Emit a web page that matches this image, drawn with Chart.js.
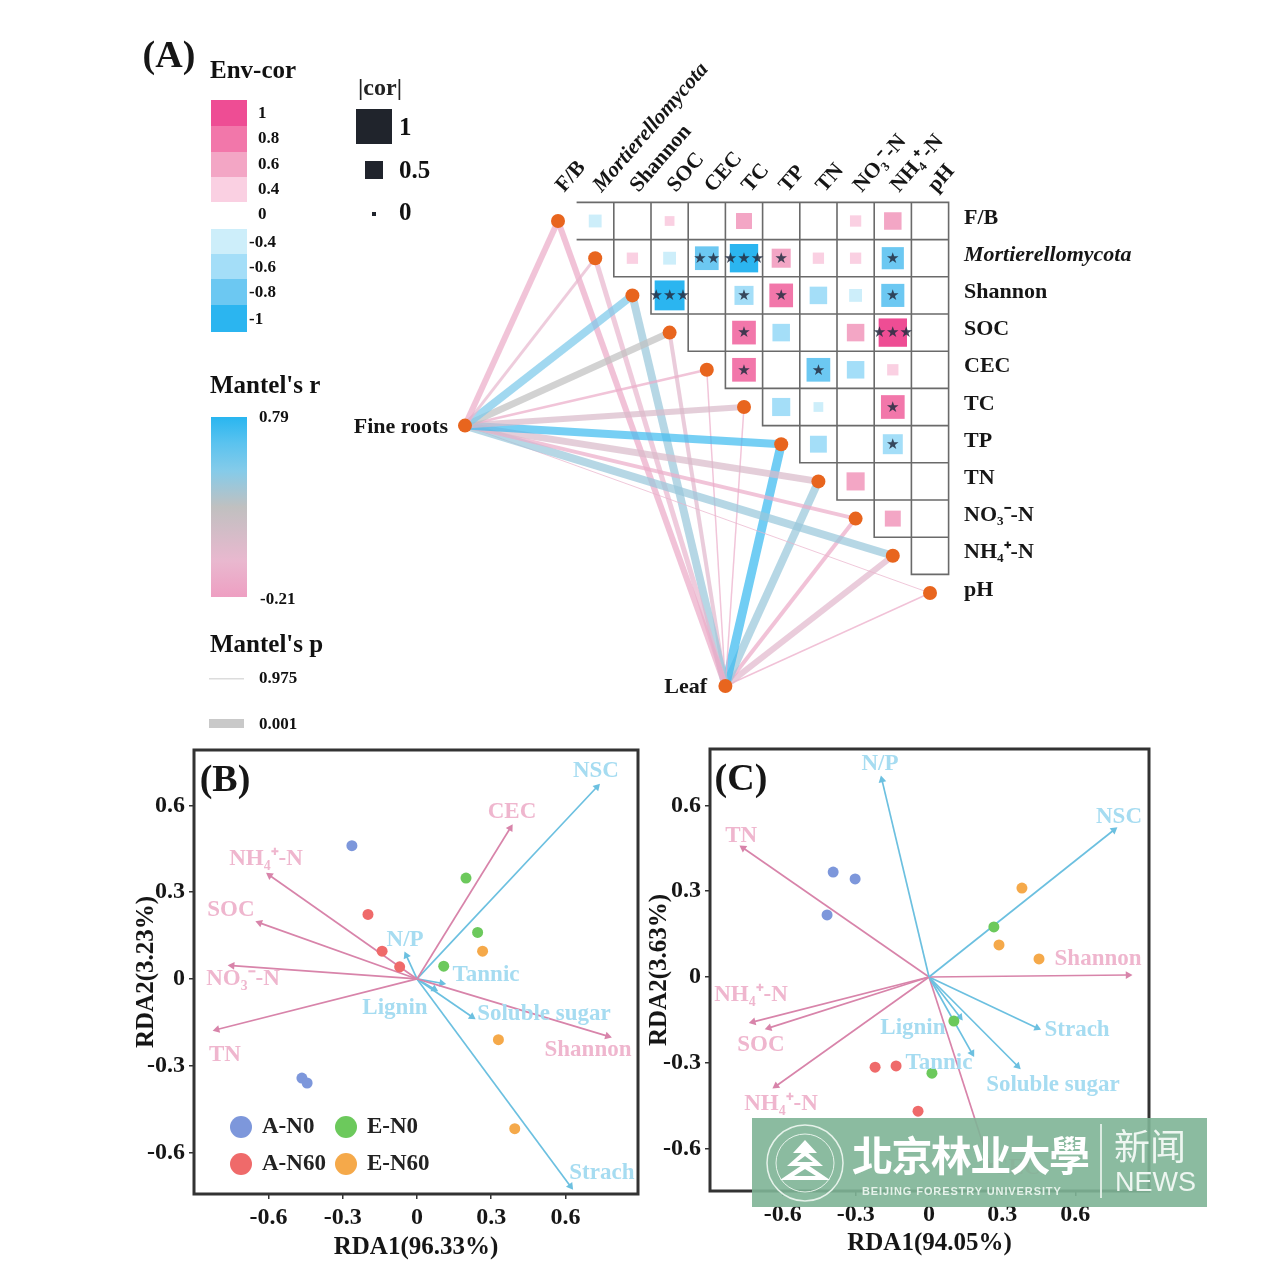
<!DOCTYPE html>
<html>
<head>
<meta charset="utf-8">
<script src="https://cdn.jsdelivr.net/npm/chart.js@4"></script>
<style>
html,body{margin:0;padding:0;background:#fff;width:1280px;height:1280px;overflow:hidden}
canvas{position:absolute;filter:blur(.5px)}
#mark{position:absolute;left:752px;top:1118px;width:455px;height:89px;background:rgba(126,180,150,.9);color:#fff;overflow:hidden;filter:blur(.5px)}
#mark div{position:absolute;white-space:nowrap}
</style>
</head>
<body>
<canvas id="panelA" width="1280" height="740" style="left:0;top:0"></canvas>
<canvas id="panelB" width="560" height="540" style="left:100px;top:730px"></canvas>
<canvas id="panelC" width="560" height="540" style="left:615px;top:730px"></canvas>
<div id="mark">
  <svg width="90" height="89" style="position:absolute;left:8px;top:0" viewBox="0 0 90 89">
    <circle cx="45" cy="45" r="38" fill="none" stroke="#e6f2ea" stroke-width="1.5"/>
    <circle cx="45" cy="45" r="29" fill="none" stroke="#e6f2ea" stroke-width="1"/>
    <path d="M45 22 L57 35 L33 35 Z M45 32 L63 48 L27 48 Z M45 45 L70 62 L20 62 Z" fill="#fff"/>
    <path d="M45 38 L53 44 L37 44 Z M45 51 L56 58 L34 58 Z" fill="#8abba1"/>
  </svg>
  <div style="left:100px;top:5px;font:700 41px 'Noto Sans CJK TC';letter-spacing:-1.6px">北京林业大學</div>
  <div style="left:110px;top:67px;font:700 11px 'Liberation Sans';letter-spacing:.9px;color:#e6f2ea">BEIJING FORESTRY UNIVERSITY</div>
  <div style="left:348px;top:6px;width:2px;height:74px;background:#dcebe2"></div>
  <div style="left:362px;top:5px;font:400 36px 'Noto Sans CJK SC';line-height:42px;color:#eef6f1">新闻</div>
  <div style="left:363px;top:46px;font:400 27px 'Liberation Sans';line-height:36px;color:#eef6f1">NEWS</div>
</div>
<script>
// ---------- Panel A data ----------
const envNames = ['F/B','Mortierellomycota','Shannon','SOC','CEC','TC','TP','TN','NO₃⁻-N','NH₄⁺-N','pH'];
const corFB      = [null,-0.35,null,0.25,null,0.45,null,null,0.30,0.50,null];
const corMort    = [null,null,0.30,-0.35,-0.70,-0.85,0.55,0.30,0.30,-0.65,null];
const corShannon = [null,null,null,-0.90,null,-0.55,0.70,-0.50,-0.35,-0.68,null];
const corSOC     = [null,null,null,null,null,0.70,-0.50,null,0.50,0.85,null];
const corCEC     = [null,null,null,null,null,0.70,null,-0.70,-0.50,0.30,null];
const corTC      = [null,null,null,null,null,null,-0.52,-0.25,null,0.70,null];
const corTP      = [null,null,null,null,null,null,null,-0.48,null,-0.58,null];
const corTN      = [null,null,null,null,null,null,null,null,0.52,null,null];
const corNO3     = [null,null,null,null,null,null,null,null,null,0.45,null];
const corNH4     = [null,null,null,null,null,null,null,null,null,null,null];
const sigFB      = [0,0,0,0,0,0,0,0,0,0,0];
const sigMort    = [0,0,0,0,2,3,1,0,0,1,0];
const sigShannon = [0,0,0,3,0,1,1,0,0,1,0];
const sigSOC     = [0,0,0,0,0,1,0,0,0,3,0];
const sigCEC     = [0,0,0,0,0,1,0,1,0,0,0];
const sigTC      = [0,0,0,0,0,0,0,0,0,1,0];
const sigTP      = [0,0,0,0,0,0,0,0,0,1,0];
const corRows = [corFB,corMort,corShannon,corSOC,corCEC,corTC,corTP,corTN,corNO3,corNH4];
const sigRows = [sigFB,sigMort,sigShannon,sigSOC,sigCEC,sigTC,sigTP];
const rootsR = [-0.10,0.00,0.52,0.28,-0.10,0.10,0.72,0.10,-0.10,0.42,-0.05];
const rootsP = [0.43,0.76,0.22,0.325,0.81,0.43,0.22,0.325,0.65,0.22,0.975];
const leafR  = [-0.12,-0.02,0.42,0.04,-0.08,-0.08,0.74,0.42,-0.12,0.04,-0.12];
const leafP  = [0.43,0.54,0.22,0.65,0.92,0.92,0.11,0.22,0.65,0.43,0.92];
const envLegendLabels = ['1','0.8','0.6','0.4','0','-0.4','-0.6','-0.8','-1'];

// ---------- Panel B data ----------
const tickValues = [-0.6,-0.3,0,0.3,0.6];
const groupNames = ['A-N0','A-N60','E-N0','E-N60'];
const bGroupAN0x  = [-0.263,-0.465,-0.444], bGroupAN0y  = [0.461,-0.343,-0.360];
const bGroupAN60x = [-0.198,-0.141,-0.070], bGroupAN60y = [0.223,0.096,0.042];
const bGroupEN0x  = [0.198,0.245,0.108],    bGroupEN0y  = [0.349,0.161,0.044];
const bGroupEN60x = [0.265,0.329,0.395],    bGroupEN60y = [0.096,-0.210,-0.518];
const bArrowNames = ['CEC','NSC','NH₄⁺-N','SOC','NO₃⁻-N','TN','Shannon','Strach','Soluble sugar','N/P','Tannic','Lignin'];
const bArrowKind  = ['p','b','p','p','p','p','p','b','b','b','b','b'];
const bArrowX = [0.377,0.727,-0.595,-0.636,-0.747,-0.808,0.770,0.620,0.222,-0.043,0.100,0.070];
const bArrowY = [0.522,0.664,0.358,0.194,0.046,-0.175,-0.198,-0.717,-0.131,0.081,-0.015,-0.035];
const bLabelX = [0.384,0.723,-0.610,-0.752,-0.703,-0.776,0.691,0.747,0.513,-0.048,0.279,-0.089];
const bLabelY = [0.578,0.720,0.415,0.239,0.000,-0.263,-0.246,-0.671,-0.121,0.135,0.014,-0.100];

// ---------- Panel C data ----------
const cGroupAN0x  = [-0.393,-0.303,-0.418], cGroupAN0y  = [0.367,0.343,0.217];
const cGroupAN60x = [-0.221,-0.135,-0.045], cGroupAN60y = [-0.315,-0.311,-0.469];
const cGroupEN0x  = [0.266,0.102,0.012],    cGroupEN0y  = [0.175,-0.154,-0.336];
const cGroupEN60x = [0.381,0.287,0.451],    cGroupEN60y = [0.311,0.112,0.063];
const cArrowNames = ['N/P','NSC','TN','Shannon','NH₄⁺-N','SOC','NH₄⁺-N','Strach','Soluble sugar','Lignin','Tannic','CEC'];
const cArrowKind  = ['b','b','p','p','p','p','p','b','b','b','b','p'];
const cArrowX = [-0.193,0.758,-0.762,0.816,-0.721,-0.656,-0.627,0.443,0.363,0.127,0.176,0.250];
const cArrowY = [0.689,0.514,0.451,0.007,-0.157,-0.178,-0.381,-0.178,-0.311,-0.140,-0.266,-0.660];
const cLabelX = [-0.201,0.779,-0.770,0.693,-0.730,-0.689,-0.607,0.607,0.508,-0.066,0.041,0.357];
const cLabelY = [0.745,0.559,0.493,0.063,-0.063,-0.238,-0.444,-0.185,-0.378,-0.178,-0.301,-0.668];

// ---------- Styles ----------
const SERIF = "'Liberation Serif'";
Chart.defaults.font.family = SERIF;
Chart.defaults.animation = false;
const envBins = ['#ee4d94','#f277aa','#f3a6c5','#fad0e2','#ffffff','#cdeefa','#a4def8','#6cc8f2','#2bb5f0'];
const groupColors = ['#7d97db','#ef6a6a','#6cc95c','#f5a94a'];
const arrowColor = {p:'#d884aa', b:'#6cc0e0'};
const labelColor = {p:'#efb6ce', b:'#a6dcf1'};
const mantelStops = [[0,[238,159,194]],[0.2,[233,184,207]],[0.5,[192,192,192]],[0.7,[133,203,233]],[0.85,[92,195,239]],[1,[41,182,240]]];

function rgbOf(stops,f){
  for(let k=1;k<stops.length;k++){
    if(f<=stops[k][0]){
      const a=stops[k-1],b=stops[k],u=(f-a[0])/(b[0]-a[0]);
      return a[1].map((c,n)=>Math.round(c+(b[1][n]-c)*u));
    }
  }
  return stops[stops.length-1][1];
}
function mantelColor(r){
  const c=rgbOf(mantelStops,Math.max(0,Math.min(1,(r+0.21)/1.0)));
  return `rgba(${c[0]},${c[1]},${c[2]},0.72)`;
}
function mantelWidth(p){ return 1+9*(1-p/0.975); }
function corColor(v){
  const a=Math.abs(v);
  const bin=a>=0.8?0:a>=0.6?1:a>=0.4?2:3;
  return v>0?envBins[bin]:envBins[8-bin];
}
function corSide(v){ return 2+31*Math.abs(v); }
function txt(ctx,s,x,y,font,color,align,base,rot){
  ctx.save();
  ctx.font=font; ctx.fillStyle=color||'#111';
  ctx.textAlign=align||'left'; ctx.textBaseline=base||'middle';
  ctx.translate(x,y); if(rot) ctx.rotate(rot);
  ctx.fillText(s,0,0);
  ctx.restore();
}

// ---------- Panel A ----------
const PX_STEP=37.2, ORIGIN_X=558, ORIGIN_Y=221;
const rootsNode={x:-2.5,y:5.5}, leafNode={x:4.5,y:12.5};
const datasetsA=[];
function mantelSet(src,rs,ps){
  envNames.forEach((n,i)=>{
    datasetsA.push({label:n,data:[src,{x:i,y:i}],showLine:true,pointRadius:0,
      borderColor:mantelColor(rs[i]),borderWidth:mantelWidth(ps[i]),order:5});
  });
}
mantelSet(rootsNode,rootsR,rootsP);
mantelSet(leafNode,leafR,leafP);
const corPoints=[];
corRows.forEach((row,i)=>row.forEach((v,j)=>{ if(v!==null) corPoints.push({x:j,y:i,v}); }));
datasetsA.push({label:'cor',data:corPoints,pointStyle:'rect',pointBorderWidth:0,
  pointRadius:c=>c.raw?corSide(c.raw.v)/Math.SQRT2:0,
  pointBackgroundColor:c=>c.raw?corColor(c.raw.v):'#fff',order:2});
const nodePoints=envNames.map((n,i)=>({x:i,y:i})).concat([rootsNode,leafNode]);
datasetsA.push({label:'nodes',data:nodePoints,pointRadius:7,pointBorderWidth:0,pointBackgroundColor:'#e8651e',order:0});

const panelAText={id:'panelAText',
  beforeDatasetsDraw(ch){
    const c=ch.ctx,X=ch.scales.x,Y=ch.scales.y;
    c.save(); c.strokeStyle='#6a6a6a'; c.lineWidth=1.6; c.beginPath();
    for(let i=0;i<10;i++) for(let j=i+1;j<=10;j++){
      const l=X.getPixelForValue(j-.5),r=X.getPixelForValue(j+.5),t=Y.getPixelForValue(i-.5),b=Y.getPixelForValue(i+.5);
      c.moveTo(l,t);c.lineTo(r,t);c.lineTo(r,b);c.lineTo(l,b);
      if(!(i===0&&j===1)) c.lineTo(l,t);
    }
    c.stroke(); c.restore();
  },
  afterDatasetsDraw(ch){
    const c=ch.ctx,X=ch.scales.x,Y=ch.scales.y;
    // significance
    sigRows.forEach((row,i)=>row.forEach((n,j)=>{
      if(n>0) txt(c,'★'.repeat(n),X.getPixelForValue(j),Y.getPixelForValue(i)+1,"15px 'DejaVu Sans'",'rgba(35,45,65,.85)','center');
    }));
    // axis names
    envNames.forEach((n,i)=>{
      const f=(n==='Mortierellomycota'?'italic ':'')+'bold 21.5px '+SERIF;
      txt(c,n,X.getPixelForValue(i)+2,Y.getPixelForValue(-0.85),f,'#161616','left','middle',-49*Math.PI/180);
      txt(c,n,964,Y.getPixelForValue(i)-3,(n==='Mortierellomycota'?'italic ':'')+'bold 22px '+SERIF,'#161616');
    });
    txt(c,'Fine roots',448,427,'bold 22px '+SERIF,'#161616','right');
    txt(c,'Leaf',707,687,'bold 22px '+SERIF,'#161616','right');
    // panel letter
    txt(c,'(A)',169,57,'bold 38px '+SERIF,'#161616','center');
    // Env-cor legend
    txt(c,'Env-cor',210,72,'bold 25px '+SERIF);
    const binEdges=[100,126,152,177,202,229,254,279,305,332];
    envBins.forEach((col,k)=>{ c.fillStyle=col; c.fillRect(211,binEdges[k],36,binEdges[k+1]-binEdges[k]); });
    const labelYs=[114,139,165,190,215,243,268,293,320];
    envLegendLabels.forEach((s,k)=>txt(c,s,s[0]==='-'?249:258,labelYs[k],'bold 17px '+SERIF));
    // |cor| legend
    txt(c,'|cor|',380,89,'bold 24px '+SERIF,'#222','center');
    c.fillStyle='#20242c';
    c.fillRect(356,109,36,35); c.fillRect(365,161,18,18); c.fillRect(372,212,4,4);
    txt(c,'1',399,129,'bold 25px '+SERIF);
    txt(c,'0.5',399,172,'bold 25px '+SERIF);
    txt(c,'0',399,214,'bold 25px '+SERIF);
    // Mantel's r legend
    txt(c,"Mantel's r",210,387,'bold 25px '+SERIF);
    const g=c.createLinearGradient(0,597,0,417);
    mantelStops.forEach(s=>g.addColorStop(s[0],`rgb(${s[1].join(',')})`));
    c.fillStyle=g; c.fillRect(211,417,36,180);
    txt(c,'0.79',259,418,'bold 17px '+SERIF);
    txt(c,'-0.21',260,600,'bold 17px '+SERIF);
    // Mantel's p legend
    txt(c,"Mantel's p",210,646,'bold 25px '+SERIF);
    c.fillStyle='#dcdcdc'; c.fillRect(209,678,35,1.5);
    c.fillStyle='#c9c9c9'; c.fillRect(209,719,35,9);
    txt(c,'0.975',259,679,'bold 17px '+SERIF);
    txt(c,'0.001',259,725,'bold 17px '+SERIF);
  }};
const xPix0=-ORIGIN_X/PX_STEP, yPix0=-ORIGIN_Y/PX_STEP;
new Chart(document.getElementById('panelA'),{
  type:'scatter',
  data:{datasets:datasetsA},
  options:{responsive:false,devicePixelRatio:1,animation:false,
    layout:{padding:0,autoPadding:false},
    plugins:{legend:{display:false},tooltip:{enabled:false},title:{display:false}},
    elements:{line:{tension:0}},
    scales:{
      x:{type:'linear',display:false,bounds:'data',min:xPix0,max:xPix0+1280/PX_STEP},
      y:{type:'linear',display:false,bounds:'data',reverse:true,min:yPix0,max:yPix0+740/PX_STEP}
    }},
  plugins:[panelAText]
});

// ---------- Panels B, C ----------
function rdaChart(id,cfg){
  const groups=[[cfg.g[0],cfg.g[1]],[cfg.g[2],cfg.g[3]],[cfg.g[4],cfg.g[5]],[cfg.g[6],cfg.g[7]]];
  const ds=[];
  cfg.ax.forEach((x,i)=>{
    const col=arrowColor[cfg.kind[i]];
    ds.push({label:cfg.names[i],data:[{x:0,y:0},{x,y:cfg.ay[i]}],showLine:true,
      borderColor:col,borderWidth:1.7,
      pointStyle:'triangle',pointBorderWidth:0,pointBackgroundColor:col,
      pointRadius:c=>c.dataIndex===1?4.5:0,
      pointRotation:c=>{
        const s=c.chart.scales; if(!s.x||!s.y) return 0;
        const dx=s.x.getPixelForValue(x)-s.x.getPixelForValue(0);
        const dy=s.y.getPixelForValue(cfg.ay[i])-s.y.getPixelForValue(0);
        return Math.atan2(dx,-dy)*180/Math.PI;
      },order:2});
  });
  groups.forEach((g,k)=>ds.push({label:groupNames[k],
    data:g[0].map((x,i)=>({x,y:g[1][i]})),
    pointRadius:5.5,pointBorderWidth:0,pointBackgroundColor:groupColors[k],order:1}));
  const deco={id:'deco',
    afterDatasetsDraw(ch){
      const c=ch.ctx,X=ch.scales.x,Y=ch.scales.y,A=ch.chartArea;
      c.save(); c.strokeStyle='#333'; c.lineWidth=3;
      c.strokeRect(A.left,A.top,A.right-A.left,A.bottom-A.top); c.restore();
      cfg.names.forEach((n,i)=>txt(c,n,X.getPixelForValue(cfg.lx[i]),Y.getPixelForValue(cfg.ly[i]),
        'bold 23px '+SERIF,labelColor[cfg.kind[i]],'center'));
      txt(c,cfg.letter,A.left+31,A.top+31,'bold 38px '+SERIF,'#161616','center');
      if(cfg.legend){
        const pos=[[141,397,162],[141,434,162],[246,397,267],[246,434,267]];
        groupNames.forEach((n,k)=>{
          const p=pos[k];
          c.fillStyle=groupColors[k]; c.beginPath(); c.arc(p[0],p[1],11,0,Math.PI*2); c.fill();
          txt(c,n,p[2],p[1],'bold 23px '+SERIF,'#222');
        });
      }
    }};
  const common={
    type:'linear',
    afterBuildTicks:s=>{s.ticks=tickValues.map(v=>({value:v}));},
    grid:{drawOnChartArea:false,drawTicks:true,tickLength:5,color:'#333',lineWidth:1.5},
    border:{display:false},
  };
  const tickOpts={color:'#161616',padding:4,maxRotation:0,autoSkip:false,font:{size:24,weight:'bold',family:SERIF},
    callback:v=>v===0?'0':v.toFixed(1)};
  new Chart(document.getElementById(id),{
    type:'scatter',
    data:{datasets:ds},
    options:{responsive:false,devicePixelRatio:1,animation:false,
      layout:{padding:cfg.pad,autoPadding:false},
      plugins:{legend:{display:false},tooltip:{enabled:false}},
      scales:{
        x:{...common,min:cfg.xr[0],max:cfg.xr[1],ticks:tickOpts,
          afterFit:s=>{s.height=cfg.xH;},
          title:{display:true,text:cfg.xt,color:'#161616',font:{size:25,weight:'bold',family:SERIF},padding:{top:0,bottom:cfg.xPad}}},
        y:{...common,min:cfg.yr[0],max:cfg.yr[1],ticks:tickOpts,
          afterFit:s=>{s.width=cfg.yW;},
          title:{display:true,text:cfg.yt,color:'#161616',font:{size:25,weight:'bold',family:SERIF},padding:{top:cfg.yPad,bottom:0}}}
      }},
    plugins:[deco]
  });
}
rdaChart('panelB',{
  letter:'(B)',legend:true,
  g:[bGroupAN0x,bGroupAN0y,bGroupAN60x,bGroupAN60y,bGroupEN0x,bGroupEN0y,bGroupEN60x,bGroupEN60y],
  names:bArrowNames,kind:bArrowKind,ax:bArrowX,ay:bArrowY,lx:bLabelX,ly:bLabelY,
  xr:[-0.901,0.893],yr:[-0.744,0.792],pad:{top:20,right:22,left:0,bottom:0},xH:76,yW:94,xPad:7,yPad:32,
  xt:'RDA1(96.33%)',yt:'RDA2(3.23%)'
});
rdaChart('panelC',{
  letter:'(C)',legend:false,
  g:[cGroupAN0x,cGroupAN0y,cGroupAN60x,cGroupAN60y,cGroupEN0x,cGroupEN0y,cGroupEN60x,cGroupEN60y],
  names:cArrowNames,kind:cArrowKind,ax:cArrowX,ay:cArrowY,lx:cLabelX,ly:cLabelY,
  xr:[-0.898,0.902],yr:[-0.748,0.797],pad:{top:19,right:26,left:0,bottom:0},xH:79,yW:95,xPad:11,yPad:30,
  xt:'RDA1(94.05%)',yt:'RDA2(3.63%)'
});
</script>
</body>
</html>
